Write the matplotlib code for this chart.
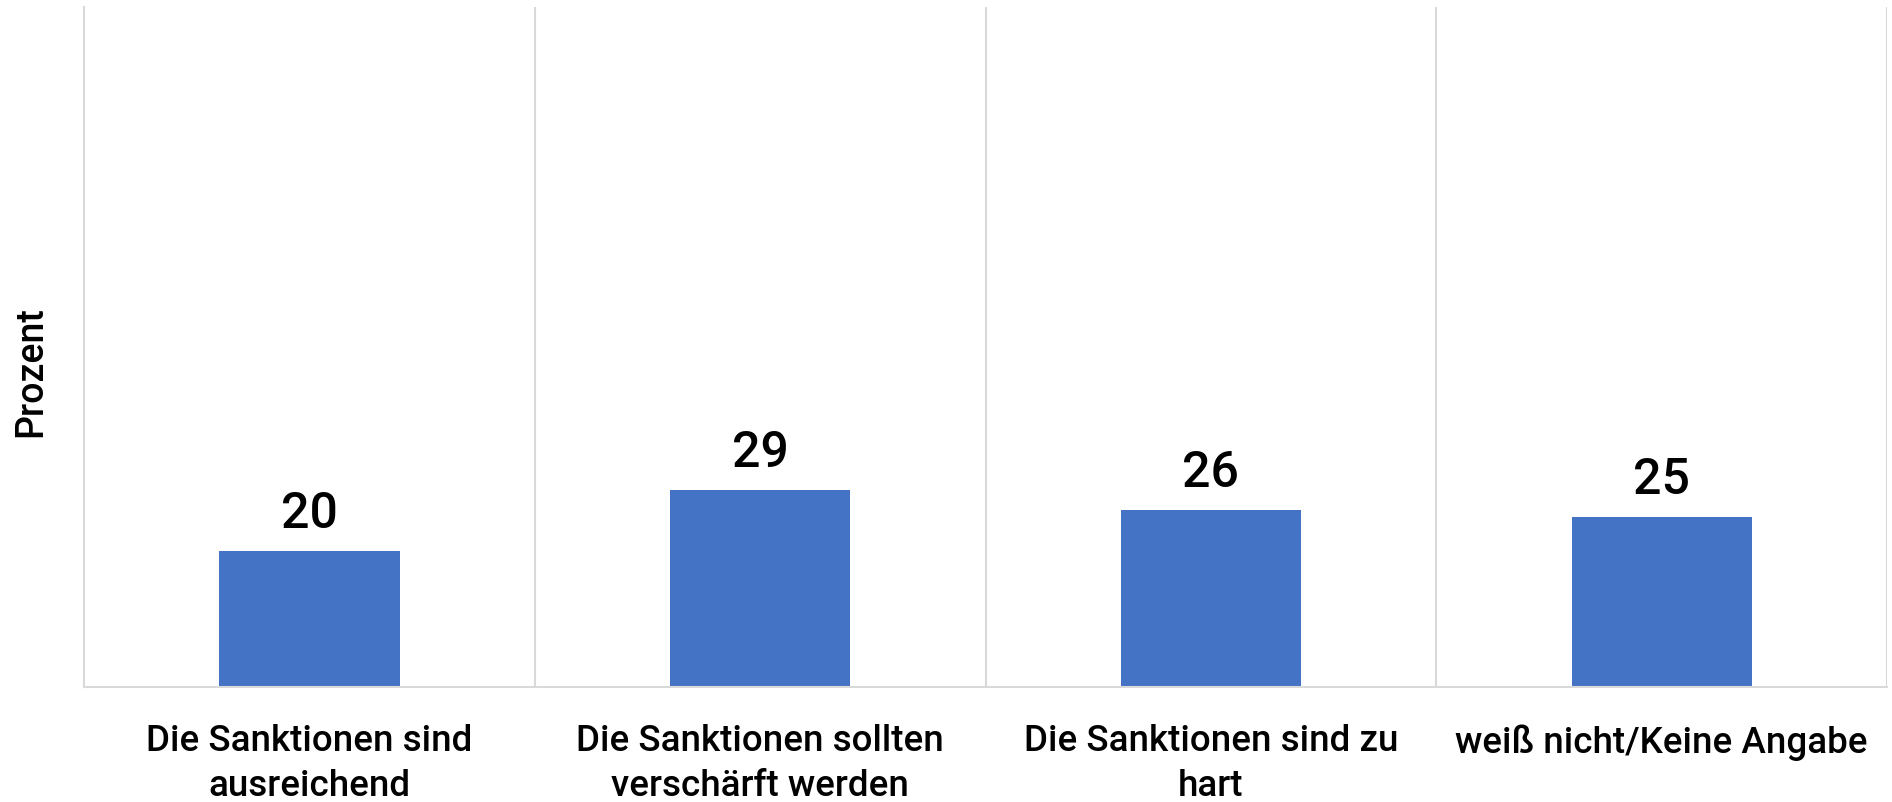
import matplotlib.pyplot as plt

categories = [
    "Die Sanktionen sind\nausreichend",
    "Die Sanktionen sollten\nverschärft werden",
    "Die Sanktionen sind zu\nhart",
    "weiß nicht/Keine Angabe",
]
values = [20, 29, 26, 25]

plt.rcParams["font.family"] = ["Roboto", "DejaVu Sans"]

fig = plt.figure(figsize=(18.92, 8.03), dpi=100)
ax = fig.add_axes([0.0444, 0.1432, 0.953, 0.8468])

x = range(len(categories))
bars = ax.bar(x, values, width=0.4, color="#4472C4")

for b, v in zip(bars, values):
    ax.annotate(str(v), (b.get_x() + b.get_width() / 2, v),
                xytext=(0, 10), textcoords="offset points",
                ha="center", va="bottom", fontsize=36, fontweight="medium")

ax.set_xlim(-0.5, len(categories) - 0.5)
ax.set_ylim(0, 100)
ax.set_yticks([])
ax.set_xticks(list(x))
ax.set_xticklabels(categories, fontsize=26.5, fontweight="medium", linespacing=1.35)
ax.tick_params(axis="x", length=0, pad=26)

# separators between the categories
for s in [0.5, 1.5, 2.5, 3.5]:
    ax.axvline(s, color="#d9d9d9", linewidth=1.5, zorder=0)

for side in ["top", "right"]:
    ax.spines[side].set_visible(False)
for side in ["left", "bottom"]:
    ax.spines[side].set_color("#d9d9d9")
    ax.spines[side].set_linewidth(1.5)

ax.set_ylabel("Prozent", fontsize=27, fontweight="medium")
ax.yaxis.set_label_coords(-0.019, 0.465)

fig.savefig("out.png", dpi=100)
plt.close(fig)
